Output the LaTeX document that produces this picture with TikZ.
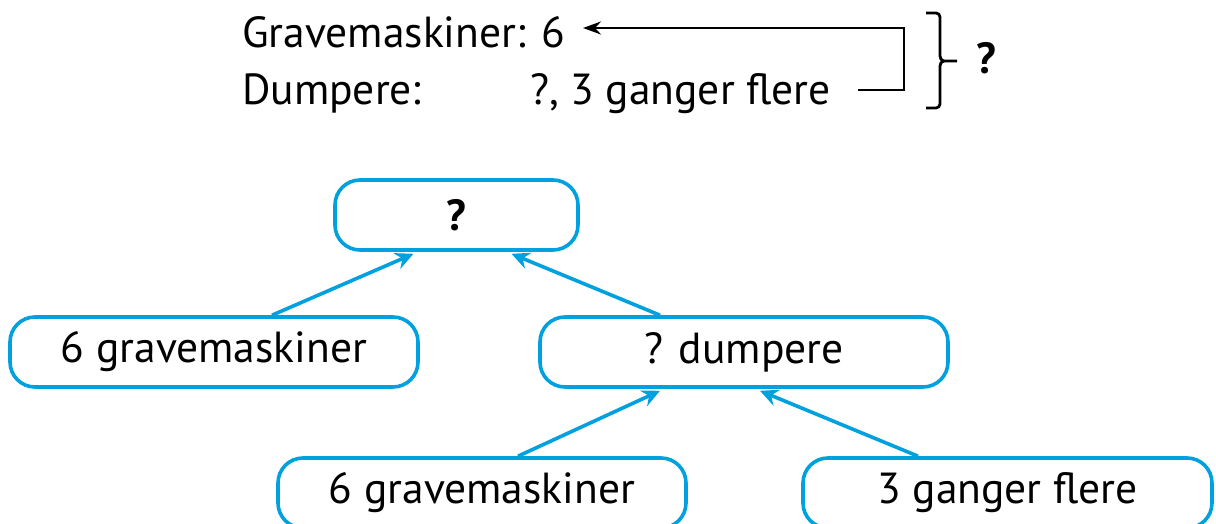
\documentclass[tikz,border=0pt]{standalone}
\usepackage{fontspec}
\setmainfont{PT Sans}
\usetikzlibrary{arrows.meta,calc}
\definecolor{boxblue}{RGB}{0,161,222}
\newcommand{\bigtext}{\fontsize{43.5}{48}\selectfont}
\tikzset{
  txt/.style={inner sep=0pt, anchor=base west, font=\bigtext},
  qbox/.style={draw=boxblue, line width=3.6pt, rounded corners=25pt, fill=white,
    minimum height=70pt, inner sep=0pt, font=\bigtext},
  barrow/.style={draw=boxblue, line width=3.6pt,
    -{Stealth[length=18pt,width=17pt,inset=6pt]}},
  karrow/.style={draw=black, line width=2.8pt,
    -{Stealth[length=18pt,width=13pt,inset=6pt]}},
}
\begin{document}
\begin{tikzpicture}[x=1pt,y=-1pt]
\useasboundingbox (0,0) rectangle (1216,524);

% equation lines at the top
\node[txt] (g) at (242,48) {Gravemaskiner: 6};
\node[txt] (d) at (242,105) {Dumpere:};
\node[txt] (f) at (530,105) {?, 3 ganger flere};

% bracket arrow from the second line back to the first
\coordinate (fe) at (858,90);
\coordinate (ge) at (583,28);
\draw[karrow] (fe) -- (904,90) -- (904,28) -- (ge);

% curly brace with the unknown
\draw[line width=2.8pt, line join=round]
  (926,13) -- (936,13) to[out=0,in=90] (940,17) -- (940,56)
  to[out=-90,in=180] (944,61) -- (957,61);
\draw[line width=2.8pt, line join=round]
  (926,108) -- (936,108) to[out=0,in=-90] (940,104) -- (940,66)
  to[out=90,in=180] (944,61);
\node[txt, font=\bigtext\bfseries] (q) at (976,74) {?};

% tree of boxes
\node[qbox, minimum width=243pt, font=\bigtext\bfseries] (t) at (456.5,215) {?};
\node[qbox, minimum width=408pt] (l) at (214,352) {6 gravemaskiner};
\node[qbox, minimum width=408pt] (r) at (744,352) {? dumpere};
\node[qbox, minimum width=408pt] (bl) at (482,493) {6 gravemaskiner};
\node[qbox, minimum width=409pt] (br) at (1007.5,493) {3 ganger flere};

\draw[barrow] ([xshift=58pt]l.north) -- ([xshift=-43pt,yshift=-2pt]t.south);
\draw[barrow] ([xshift=-84pt]r.north) -- ([xshift=55pt,yshift=-2pt]t.south);
\draw[barrow] ([xshift=36pt]bl.north) -- ([xshift=-84pt,yshift=-2pt]r.south);
\draw[barrow] ([xshift=-89.5pt]br.north) -- ([xshift=16pt,yshift=-2pt]r.south);
\end{tikzpicture}
\end{document}
